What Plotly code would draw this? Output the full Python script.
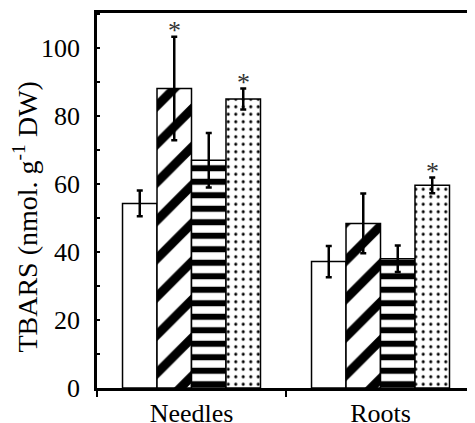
import plotly.graph_objects as go

categories = ["Needles", "Roots"]

# four treatments, values in nmol g-1 DW
s1_mean = [54.3, 37.2]
s1_err = [3.8, 4.6]
s2_mean = [88.1, 48.4]
s2_err = [15.2, 8.8]
s3_mean = [67.0, 38.0]
s3_err = [8.0, 3.9]
s4_mean = [85.0, 59.6]
s4_err = [3.1, 2.3]

# significance marks
s1_star = ["", ""]
s2_star = ["*", ""]
s3_star = ["", ""]
s4_star = ["*", "*"]

series = [
    (s1_mean, s1_err, s1_star, "", 10, 0.3),
    (s2_mean, s2_err, s2_star, "/", 27, 0.33),
    (s3_mean, s3_err, s3_star, "-", 13.5, 0.45),
    (s4_mean, s4_err, s4_star, ".", 7.5, 0.13),
]

# page body has an 8px margin, so the figure is sized to fit the window
W, H = 467, 415
ML, MR, MT, MB = 89, 0, 5, 35
BARGAP = 0.27

fig = go.Figure()

for i, (mean, err, star, shape, size, sol) in enumerate(series):
    fig.add_trace(go.Bar(
        x=categories,
        y=mean,
        marker=dict(
            color="white",
            line=dict(color="black", width=1.5),
            pattern=dict(shape=shape, fgcolor="black", bgcolor="white",
                         fgopacity=1, size=size, solidity=sol,
                         fillmode="replace"),
        ),
        error_y=dict(type="data", array=err, color="black",
                     thickness=2.5, width=3),
        showlegend=False,
    ))

# asterisks above the error bars
cat_w = (W - ML - MR) / len(categories)
bar_w = cat_w * (1 - BARGAP) / len(series)
for i, (mean, err, star, shape, size, sol) in enumerate(series):
    for c, m, e, s in zip(categories, mean, err, star):
        if s:
            fig.add_annotation(
                x=c, y=m + e, text=s, showarrow=False,
                xshift=(i - (len(series) - 1) / 2) * bar_w,
                yanchor="middle", yshift=6,
                font=dict(family="Liberation Serif", size=26, color="#333333"),
            )

# y axis title
fig.add_annotation(
    text="TBARS (nmol. g<sup>-1</sup> DW)", textangle=-90,
    xref="paper", yref="paper", x=-0.19, y=0.455,
    xanchor="center", yanchor="middle", showarrow=False,
    font=dict(family="Liberation Serif", size=28, color="black"),
)

fig.update_layout(
    width=W,
    height=H,
    margin=dict(l=ML, r=MR, t=MT, b=MB),
    barmode="group",
    bargap=BARGAP,
    bargroupgap=0,
    plot_bgcolor="white",
    paper_bgcolor="white",
    font=dict(family="Liberation Serif", size=26, color="black"),
)

fig.update_xaxes(
    showline=True, linecolor="black", linewidth=2.5, mirror=True,
    ticks="outside", tickson="boundaries", ticklen=6, tickwidth=2,
    tickcolor="black", showgrid=False, automargin=False,
    ticklabelstandoff=0,
)

fig.update_yaxes(
    range=[0, 110.3],
    showline=True, linecolor="black", linewidth=2.5,
    dtick=20, ticks="inside", ticklen=3, tickwidth=2, tickcolor="black",
    minor=dict(dtick=10, ticks="inside", ticklen=3, tickwidth=2,
               tickcolor="black"),
    showgrid=False, zeroline=False, automargin=False,
    ticklabelstandoff=9,
)

fig.write_html("out.html")
